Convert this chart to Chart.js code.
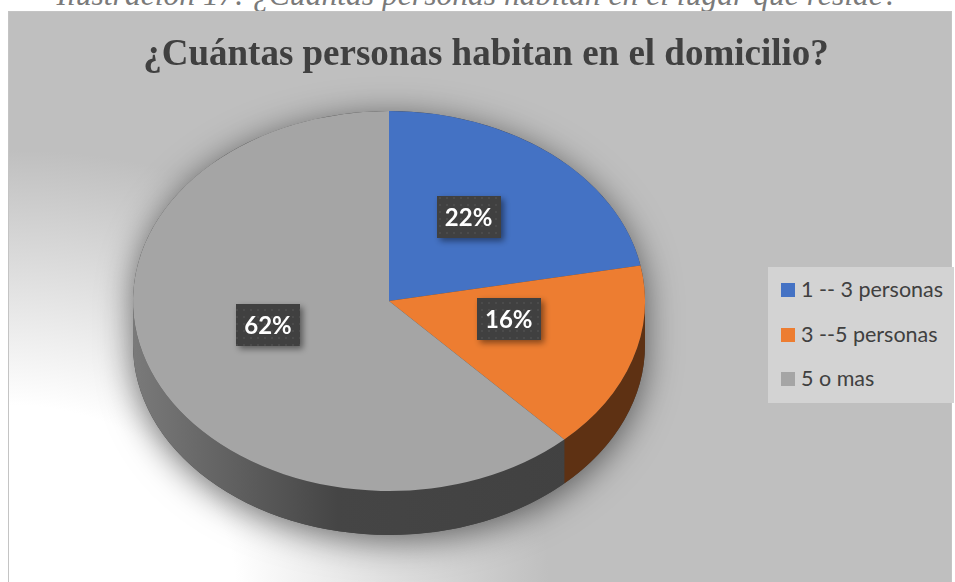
<!DOCTYPE html>
<html>
<head>
<meta charset="utf-8">
<script src="https://cdn.jsdelivr.net/npm/chart.js@4"></script>
<style>
  html, body { margin:0; padding:0; width:955px; height:582px; overflow:hidden; background:#ffffff; }
  #caption { position:absolute; left:0; top:-21px; width:955px; text-align:center;
    font-family:"Liberation Serif", serif; font-style:italic; font-size:31.6px; line-height:1; color:#7a7a7a; white-space:nowrap; }
  #box { position:absolute; left:8px; top:11px; width:944px; height:580px; box-sizing:border-box;
    border:1px solid #c4c4c4;
    background: radial-gradient(ellipse 540px 440px at 0% 100%, #ffffff 0%, #ffffff 42%, #bfbfbf 100%), #bfbfbf; }
  #chart { position:absolute; left:0; top:0; }
  #legend { position:absolute; left:759px; top:255px; width:186px; height:136px; background:#d3d3d3; }
  .item { position:absolute; left:13px; height:20px; font-family:Lato, "Open Sans", sans-serif; font-size:21.5px; color:#404040; white-space:nowrap; }
  .item .sw { position:absolute; left:0; top:3px; width:14px; height:14px; }
  .item .tx { position:absolute; left:20px; top:-4px; }
</style>
</head>
<body>
<div id="caption">Ilustración 17: ¿Cuántas personas habitan en el lugar que reside?</div>
<div id="box">
  <canvas id="chart" width="942" height="578"></canvas>
  <div id="legend"></div>
</div>
<script>
// ---- data ----
const categories = ["1 -- 3 personas", "3 --5 personas", "5 o mas"];
const values = [22, 16, 62];
const topColors = ["#4472c4", "#ed7d31", "#a5a5a5"];
const sideColors = ["#27447a", "#5e3113", "#404040"];
const chartTitle = "¿Cuántas personas habitan en el domicilio?";

// ---- geometry of the 3D look (canvas coords) ----
const EX = 380, EY = 289, RX = 256, RY = 190, DEPTH = 44;
const K = RY / RX;

// legend (html)
const legendEl = document.getElementById('legend');
const legendTops = [13, 58, 102];
categories.forEach((c, i) => {
  const d = document.createElement('div');
  d.className = 'item';
  d.style.top = legendTops[i] + 'px';
  d.innerHTML = '<span class="sw" style="background:' + topColors[i] + '"></span><span class="tx"></span>';
  d.querySelector('.tx').textContent = c;
  legendEl.appendChild(d);
});

function dotPattern(ctx) {
  const c = document.createElement('canvas');
  c.width = 7; c.height = 7;
  const g = c.getContext('2d');
  g.fillStyle = '#404040'; g.fillRect(0, 0, 7, 7);
  g.fillStyle = '#4b4b4b'; g.fillRect(3, 3, 2, 2);
  return ctx.createPattern(c, 'repeat');
}

const pie3d = {
  id: 'pie3d',
  beforeDatasetsDraw(chart) {
    const ctx = chart.ctx;
    const arcs = chart.getDatasetMeta(0).data;
    if (!arcs.length) return;
    // shadow of the cylinder
    ctx.save();
    ctx.beginPath();
    ctx.ellipse(EX, EY, RX, RY, 0, Math.PI, 2 * Math.PI, false);
    ctx.lineTo(EX + RX, EY + DEPTH);
    ctx.ellipse(EX, EY + DEPTH, RX, RY, 0, 0, Math.PI, false);
    ctx.closePath();
    ctx.shadowColor = 'rgba(0,0,0,0.55)';
    ctx.shadowBlur = 34;
    ctx.shadowOffsetX = 0;
    ctx.shadowOffsetY = 6;
    ctx.fillStyle = '#404040';
    ctx.fill();
    ctx.restore();
    // side walls
    arcs.forEach((arc, i) => {
      const a = Math.max(arc.startAngle, 0);
      const b = Math.min(arc.endAngle, Math.PI);
      if (b <= a) return;
      ctx.save();
      ctx.beginPath();
      ctx.ellipse(EX, EY, RX, RY, 0, a, b, false);
      ctx.lineTo(EX + RX * Math.cos(b), EY + RY * Math.sin(b) + DEPTH);
      ctx.ellipse(EX, EY + DEPTH, RX, RY, 0, b, a, true);
      ctx.closePath();
      if (i === 2) {
        const g = ctx.createLinearGradient(EX - RX, 0, EX + RX, 0);
        g.addColorStop(0, '#7a7a7a');
        g.addColorStop(0.4, '#454545');
        g.addColorStop(1, '#404040');
        ctx.fillStyle = g;
      } else {
        ctx.fillStyle = sideColors[i];
      }
      ctx.fill();
      ctx.restore();
    });
    // flatten the pie into an ellipse
    const cx = arcs[0].x, cy = arcs[0].y;
    ctx.save();
    ctx.translate(EX, EY);
    ctx.scale(1, K);
    ctx.translate(-cx, -cy);
  },
  afterDatasetsDraw(chart) {
    const ctx = chart.ctx;
    ctx.restore();
    const arcs = chart.getDatasetMeta(0).data;
    const total = values.reduce((s, v) => s + v, 0);
    const pat = dotPattern(ctx);
    arcs.forEach((arc, i) => {
      const mid = (arc.startAngle + arc.endAngle) / 2;
      const x = EX + 0.5 * RX * Math.cos(mid) - 2;
      const y = EY + 0.5 * RY * Math.sin(mid) - 11;
      const w = 64, h = 42;
      ctx.save();
      ctx.shadowColor = 'rgba(0,0,0,0.45)';
      ctx.shadowBlur = 6;
      ctx.shadowOffsetX = 3;
      ctx.shadowOffsetY = 3;
      ctx.fillStyle = pat;
      ctx.fillRect(Math.round(x - w / 2), Math.round(y - h / 2), w, h);
      ctx.restore();
      ctx.save();
      ctx.fillStyle = '#ffffff';
      ctx.font = 'bold 24px Lato, "Open Sans", sans-serif';
      ctx.textAlign = 'center';
      ctx.textBaseline = 'middle';
      ctx.fillText(Math.round(values[i] / total * 100) + '%', x, y + 1);
      ctx.restore();
    });
  }
};

new Chart(document.getElementById('chart'), {
  type: 'pie',
  data: {
    labels: categories,
    datasets: [{
      data: values,
      backgroundColor: topColors,
      borderWidth: 0,
      radius: RX
    }]
  },
  options: {
    responsive: false,
    animation: false,
    events: [],
    layout: { padding: { left: 12, right: 0, top: 0, bottom: 0 } },
    plugins: {
      legend: { display: false },
      tooltip: { enabled: false },
      title: {
        display: true,
        text: chartTitle,
        color: '#404040',
        font: { family: '"Liberation Serif", "Times New Roman", serif', size: 37, weight: 'bold', lineHeight: 1.2 },
        padding: { top: 21, bottom: 10 }
      }
    }
  },
  plugins: [pie3d]
});
</script>
</body>
</html>
